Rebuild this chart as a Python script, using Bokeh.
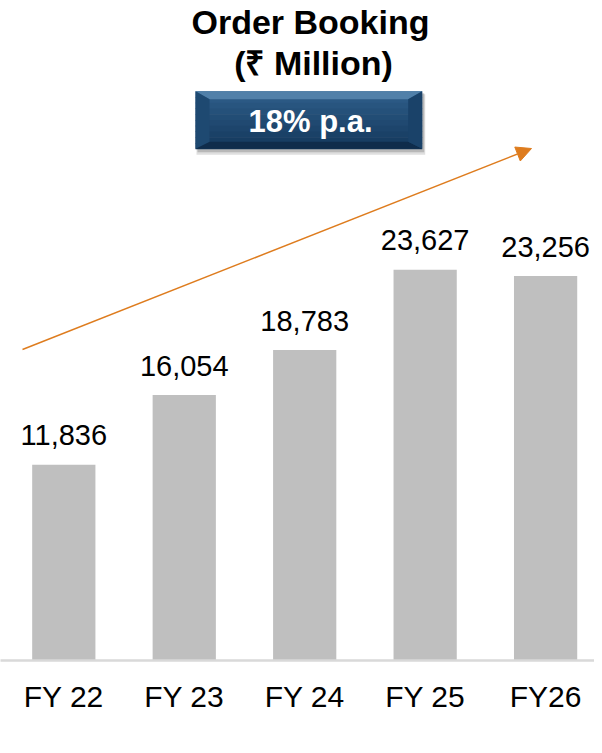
from bokeh.plotting import figure
from bokeh.models import Range1d, FixedTicker, Arrow, NormalHead, ColumnDataSource
from bokeh.core.properties import value
from bokeh.embed import file_html
from bokeh.resources import INLINE

# ---- data ----
categories = ["FY 22", "FY 23", "FY 24", "FY 25", "FY26"]
order_booking = [11836, 16054, 18783, 23627, 23256]
title_lines = ["Order Booking", "(\u20b9 Million)"]
cagr_label = "18% p.a."

# ---- layout constants (pixels) ----
W, H = 594, 745
FRAME_H = 660          # frame height in px (axis line at its bottom)
UPP = 60.47            # data units per pixel (vertical)
X0 = 63.3              # px position of first category centre
DX = 120.45            # px between categories
FONT = "Liberation Sans"
TS = 12                # text baseline correction (px)


def X(px):
    """picture x pixel -> data x"""
    return (px - X0) / DX


def Y(py):
    """picture y pixel -> data y"""
    return (FRAME_H - py) * UPP


xs = list(range(len(categories)))
src = ColumnDataSource(dict(
    x=xs,
    top=order_booking,
    label=[f"{v:,}" for v in order_booking],
    label_y=[v + (17.3 + TS) * UPP for v in order_booking],
))

p = figure(width=W, height=H, output_backend="svg", toolbar_location=None,
           x_range=Range1d(-X0 / DX, (W - X0) / DX),
           y_range=Range1d(0, FRAME_H * UPP),
           min_border_left=0, min_border_right=0, min_border_top=0,
           min_border_bottom=H - FRAME_H, y_axis_location=None)
p.outline_line_color = None
p.grid.visible = False
p.background_fill_color = "white"
p.border_fill_color = "white"

# x axis
ax = p.xaxis[0]
ax.ticker = FixedTicker(ticks=xs)
ax.major_label_overrides = {i: c for i, c in enumerate(categories)}
ax.major_tick_line_color = None
ax.minor_tick_line_color = None
ax.axis_line_color = "#D9D9D9"
ax.axis_line_width = 2.5
ax.major_label_text_font = FONT
ax.major_label_text_font_size = "30px"
ax.major_label_text_color = "black"
ax.major_label_standoff = 13

# bars
p.vbar(x="x", top="top", bottom=0, width=0.525, source=src,
       fill_color="#BFBFBF", line_color=None)

# value labels
p.text(x="x", y="label_y", text="label", source=src,
       text_font=value(FONT), text_font_size="29px", text_color="black",
       text_align="center", text_baseline="alphabetic")

# growth arrow
p.add_layout(Arrow(x_start=X(22), y_start=Y(349), x_end=X(531), y_end=Y(148),
                   line_color="#DE7C1E", line_width=1.5,
                   end=NormalHead(size=15, fill_color="#DE7C1E", line_color="#DE7C1E")))

# title
p.text(x=[X(310)], y=[Y(33 - TS)], text=[title_lines[0]],
       text_font=value(FONT), text_font_style="bold", text_font_size="34px",
       text_color="black", text_align="center", text_baseline="alphabetic")
p.text(x=[X(313)], y=[Y(74.5 - TS)], text=[title_lines[1]],
       text_font=value(FONT), text_font_style="bold", text_font_size="34px",
       text_color="black", text_align="center", text_baseline="alphabetic")

# badge: shadow
bl, br, bt, bb = 195, 421.7, 90.7, 148.3
p.quad(left=[X(bl + 1)], right=[X(br + 3)], top=[Y(bt + 3)], bottom=[Y(bb + 6)],
       fill_color="#808080", fill_alpha=0.25, line_color=None)
p.quad(left=[X(bl + 2)], right=[X(br + 2)], top=[Y(bt + 2)], bottom=[Y(bb + 3.5)],
       fill_color="#707070", fill_alpha=0.35, line_color=None)

# badge: face gradient
il, ir, it, ib = bl + 14, br - 14, bt + 8, bb - 7
c_top = (0x2E, 0x5D, 0x89)
c_bot = (0x15, 0x39, 0x5E)
n = 10
lefts, rights, tops, bots, cols = [], [], [], [], []
for i in range(n):
    f = i / (n - 1)
    col = "#%02x%02x%02x" % tuple(int(a + (b - a) * f) for a, b in zip(c_top, c_bot))
    y0 = bt + (bb - bt) * i / n
    y1 = bt + (bb - bt) * (i + 1) / n
    lefts.append(X(bl)); rights.append(X(br))
    tops.append(Y(y0)); bots.append(Y(y1 + 0.5)); cols.append(col)
p.quad(left=lefts, right=rights, top=tops, bottom=bots, fill_color=cols, line_color=None)

# badge: bevels
p.patches(
    xs=[[X(bl), X(br), X(ir), X(il)],
        [X(bl), X(br), X(ir), X(il)],
        [X(bl), X(il), X(il), X(bl)],
        [X(br), X(ir), X(ir), X(br)]],
    ys=[[Y(bt), Y(bt), Y(it), Y(it)],
        [Y(bb), Y(bb), Y(ib), Y(ib)],
        [Y(bt), Y(it), Y(ib), Y(bb)],
        [Y(bt), Y(it), Y(ib), Y(bb)]],
    fill_color=["#5180A9", "#0F2C4B", "#1E4971", "#1A4269"],
    line_color=None)

p.text(x=[X(310)], y=[Y(132.7 - TS)], text=[cagr_label],
       text_font=value(FONT), text_font_style="bold", text_font_size="31px",
       text_color="white", text_align="center", text_baseline="alphabetic")

open("out.html", "w").write(file_html(p, INLINE))
